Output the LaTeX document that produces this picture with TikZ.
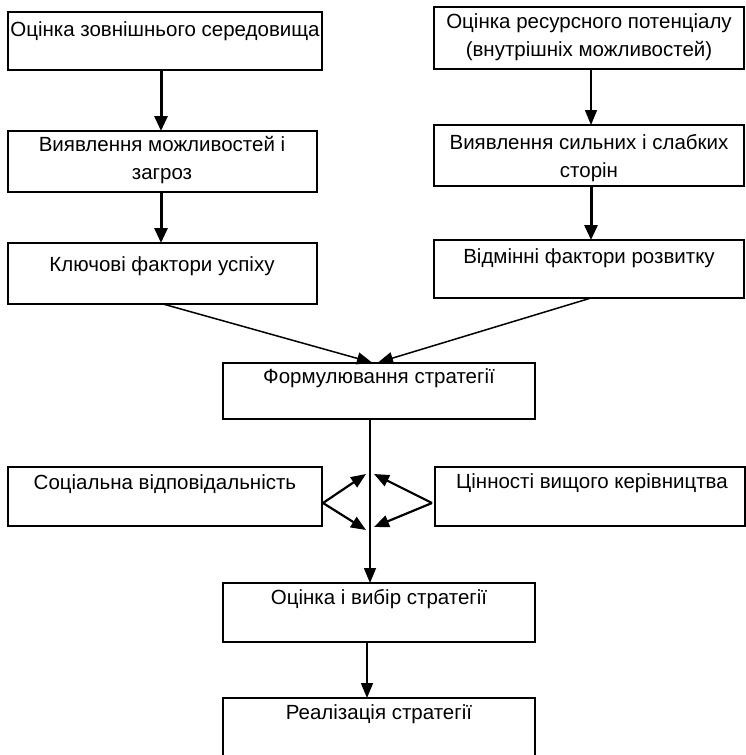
\documentclass[tikz,border=0pt]{standalone}
\usepackage{fontspec}
\setmainfont{Liberation Sans}
\usetikzlibrary{arrows.meta}
\begin{document}
\begin{tikzpicture}[x=1pt,y=-1pt,
  box/.style={draw, line width=1.8pt, anchor=north west, inner sep=0pt, outer sep=0pt},
  txt/.style={font=\fontsize{20.5}{28}\selectfont, align=center, inner sep=0pt, anchor=center},
  thin arrow/.style={line width=1.5pt, -{Triangle[length=15pt,width=12pt]}},
  thick arrow/.style={line width=3pt, -{Triangle[length=15pt,width=13pt]}}]
\useasboundingbox (0,0) rectangle (746,755);
\clip (0,0) rectangle (746,755);
% boxes
\node[box, minimum width=314pt, minimum height=58pt] (A) at (8,12) {};
\node[box, minimum width=310pt, minimum height=62pt] (B) at (434,7) {};
\node[box, minimum width=309pt, minimum height=61pt] (C) at (8,131) {};
\node[box, minimum width=310pt, minimum height=61pt] (D) at (434,125) {};
\node[box, minimum width=309pt, minimum height=61pt] (E) at (8,243) {};
\node[box, minimum width=310pt, minimum height=58pt] (F) at (434,240) {};
\node[box, minimum width=312pt, minimum height=56pt] (G) at (223,363) {};
\node[box, minimum width=314pt, minimum height=59pt] (J) at (8,467) {};
\node[box, minimum width=310pt, minimum height=59pt] (K) at (435,467) {};
\node[box, minimum width=312pt, minimum height=59pt] (H) at (223,583) {};
\node[box, minimum width=312pt, minimum height=70pt] (I) at (223,698) {};
% texts
\node[txt] (At) at (165,31) {Оцінка зовнішнього середовища};
\node[txt] (Bt) at (589,37) {Оцінка ресурсного потенціалу\\(внутрішніх можливостей)};
\node[txt] (Ct) at (162,160) {Виявлення можливостей і\\загроз};
\node[txt] (Dt) at (589,158) {Виявлення сильних і слабких\\сторін};
\node[txt] (Et) at (162,266) {Ключові фактори успіху};
\node[txt] (Ft) at (589,258) {Відмінні фактори розвитку};
\node[txt] (Gt) at (379,378) {Формулювання стратегії};
\node[txt] (Jt) at (165,484) {Соціальна відповідальність};
\node[txt] (Kt) at (592,483) {Цінності вищого керівництва};
\node[txt] (Ht) at (379,599) {Оцінка і вибір стратегії};
\node[txt] (It) at (379,714) {Реалізація стратегії};
% connectors
\draw[thick arrow] (A.south -| 161,0) -- (C.north -| 161,0);
\draw[thin arrow] (B.south -| 591,0) -- (D.north -| 591,0);
\draw[thick arrow] (C.south -| 161,0) -- (E.north -| 161,0);
\draw[thick arrow] (D.south -| 591,0) -- (F.north -| 591,0);
\coordinate (Es) at (163,304);
\coordinate (Fs) at (591,298);
\draw[thin arrow] (Es) -- (372,362.5);
\draw[thin arrow] (Fs) -- (378,362.5);
\draw[thin arrow] (G.south -| 370,0) -- (H.north -| 370,0);
\draw[thin arrow] (H.south -| 367,0) -- (I.north -| 367,0);
\coordinate (Jr) at (323,503);
\coordinate (Kl) at (432,503);
\coordinate (m1) at (366,474);
\coordinate (m2) at (366,530);
\coordinate (m3) at (374,474);
\coordinate (m4) at (374,527);
\draw[thin arrow, line width=2.2pt] (Jr) -- (m1);
\draw[thin arrow, line width=2.2pt] (Jr) -- (m2);
\draw[thin arrow, line width=2.2pt] (Kl) -- (m3);
\draw[thin arrow, line width=2.2pt] (Kl) -- (m4);
\end{tikzpicture}
\end{document}
